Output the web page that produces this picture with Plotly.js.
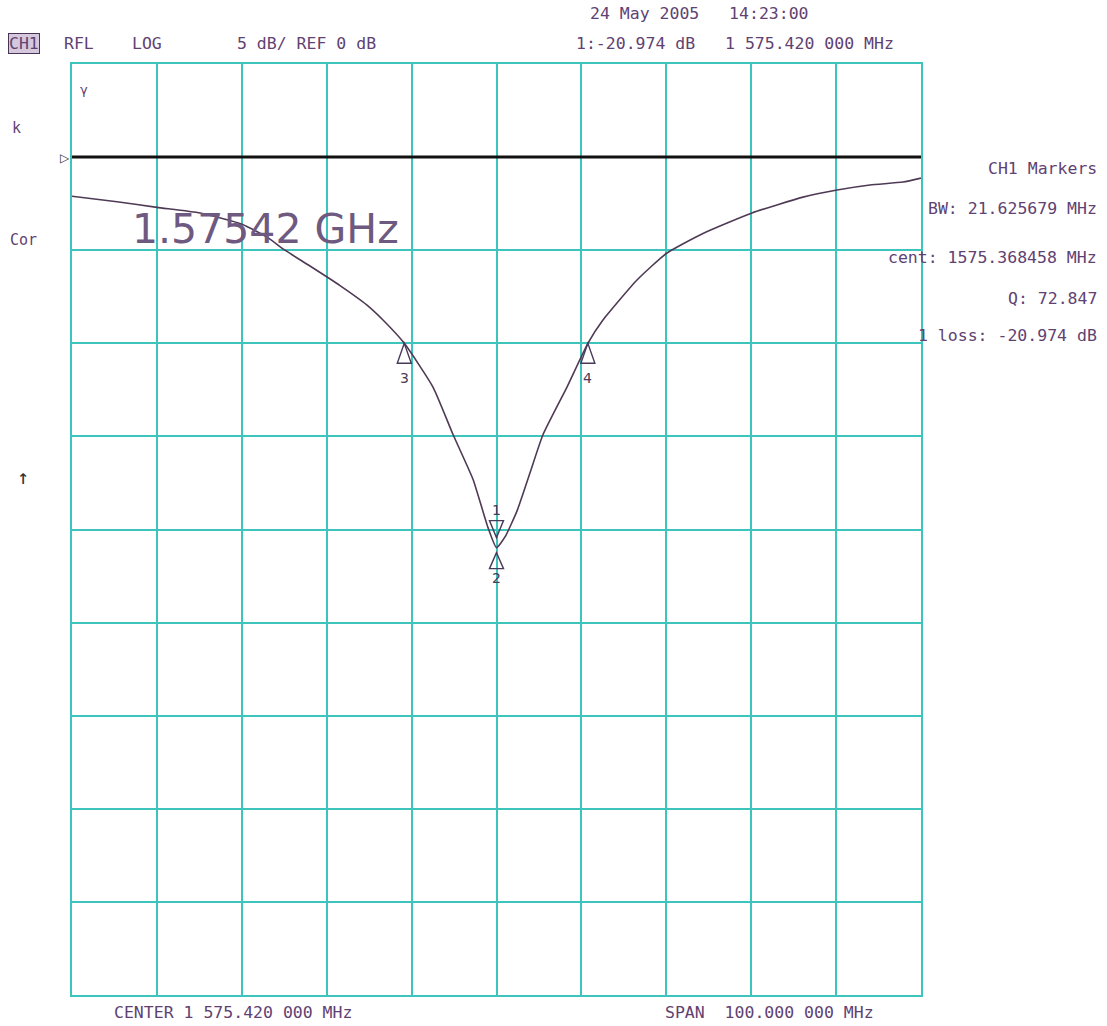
<!DOCTYPE html>
<html>
<head>
<meta charset="utf-8">
<script src="https://cdn.plot.ly/plotly-3.0.1.min.js"></script>
<style>html,body{margin:0;padding:0;background:#fff;}#chart{width:1107px;height:1026px;}</style>
</head>
<body>
<div id="chart"></div>
<script>
// ---- data ----
const freqMHz = [1525.42, 1530.72, 1535.43, 1540.50, 1545.44, 1548.39, 1550.51, 1553.45, 1556.99, 1560.17,
                 1562.05, 1564.56, 1567.94, 1570.30, 1572.65, 1574.42, 1575.42, 1576.42, 1577.84, 1579.37,
                 1580.90, 1583.72, 1586.18, 1587.96, 1591.97, 1595.50, 1599.74, 1605.51, 1611.52, 1615.53,
                 1619.41, 1623.30, 1625.42];
const s11dB   = [-2.1, -2.4, -2.7, -3.0, -3.6, -4.3, -5.0, -5.85, -6.9, -7.95,
                 -8.75, -10.0, -12.35, -14.9, -17.3, -19.9, -20.974, -20.4, -19.0, -16.95,
                 -14.9, -12.35, -10.0, -8.75, -6.6, -5.15, -4.1, -3.0, -2.15, -1.77,
                 -1.5, -1.34, -1.13];
const markerIds   = ["1", "2", "3", "4"];
const markerFreq  = [1575.42, 1575.42, 1564.555, 1586.181];
const markerDb    = [-20.974, -20.974, -10.0, -10.0];
const centerMHz = 1575.42;
const spanMHz = 100;
const refLevelDb = 0;
const scaleDbPerDiv = 5;
const nDiv = 10;
const topDb = 5;
const infoLabels = ["CH1 Markers", "BW: 21.625679 MHz", "cent: 1575.368458 MHz", "Q: 72.847", "1 loss: -20.974 dB"];
const headerTexts = ["CH1", "RFL", "LOG", "5 dB/ REF 0 dB", "1:-20.974 dB   1 575.420 000 MHz"];
const dateText = "24 May 2005   14:23:00";
const footerTexts = ["CENTER 1 575.420 000 MHz", "SPAN  100.000 000 MHz"];
const bigLabel = "1.57542 GHz";

// ---- layout helpers (pixel -> paper) ----
const L = 72, R = 921, T = 64, B = 995;
const px = x => (x - L) / (R - L);
const py = y => (B - y) / (B - T);

const txtColor = "#5f4272";
const mono = "DejaVu Sans Mono, Liberation Mono, monospace";
const gridColor = "#3cc4bd";
const markColor = "#4a3a5a";

const ann = [];
function addText(text, x, y, xanchor, opts) {
  ann.push(Object.assign({
    text: text, xref: "paper", yref: "paper", x: px(x), y: py(y),
    xanchor: xanchor, yanchor: "middle", showarrow: false,
    font: {family: mono, size: 16.5, color: txtColor}
  }, opts || {}));
}
addText(dateText, 588, 14, "left");
addText(headerTexts[0], 8, 44, "left", {bgcolor: "#d6c8dc", bordercolor: "#4a3358", borderwidth: 1, borderpad: 0});
addText(headerTexts[1], 62, 44, "left");
addText(headerTexts[2], 130, 44, "left");
addText(headerTexts[3], 235, 44, "left");
addText(headerTexts[4], 574, 44, "left");
const infoY = [168, 208, 257, 298, 336];
infoLabels.forEach((t, i) => addText(t, 1099, infoY[i], "right"));
addText(footerTexts[0], 112, 1012, "left");
addText(footerTexts[1], 663, 1012, "left");
addText(bigLabel, 130, 229, "left", {font: {family: "DejaVu Sans, sans-serif", size: 41, color: "#6e5a80"}});
addText("k", 10, 128, "left", {font: {family: mono, size: 15, color: txtColor}});
addText("Cor", 8, 240, "left", {font: {family: mono, size: 15, color: txtColor}});
addText("↑", 15, 477, "left", {font: {family: mono, size: 20, color: "#333"}});
addText("▷", 58, 158, "left", {font: {family: "DejaVu Sans", size: 12, color: "#333"}});
addText("γ", 78, 90, "left", {font: {family: "DejaVu Sans", size: 13, color: txtColor}});

// marker triangles as pixel-sized shapes anchored at marker data points
const shapes = [{type: "line", xref: "paper", yref: "y", x0: 0, x1: 1, y0: refLevelDb, y1: refLevelDb,
                 line: {color: "#111", width: 3}}];
markerIds.forEach((id, i) => {
  let path, labelShift;
  if (id === "1") {            // downward triangle above the point
    path = "M0,10 L-7,27 L7,27 Z";
    labelShift = 38;
  } else if (id === "2") {     // upward triangle below the point
    path = "M0,-5 L-7,-21 L7,-21 Z";
    labelShift = -30;
  } else {                     // upward triangle with apex on trace
    path = "M0,0 L-7,-20 L7,-20 Z";
    labelShift = -35;
  }
  shapes.push({type: "path", xref: "x", yref: "y", xsizemode: "pixel", ysizemode: "pixel",
               xanchor: markerFreq[i], yanchor: markerDb[i], path: path,
               line: {color: markColor, width: 1.4}});
  ann.push({
    text: id, x: markerFreq[i], y: markerDb[i], xref: "x", yref: "y",
    xanchor: "center", yanchor: "middle", showarrow: false, borderpad: 0,
    font: {family: "DejaVu Sans", size: 14, color: markColor}, yshift: labelShift
  });
});

const trace = {
  x: freqMHz, y: s11dB, type: "scatter", mode: "lines",
  line: {color: "#4f3a55", width: 1.6, shape: "spline", smoothing: 0.5},
  hoverinfo: "skip"
};

const xMin = centerMHz - spanMHz / 2, xMax = centerMHz + spanMHz / 2;
const layout = {
  width: 1107, height: 1026,
  margin: {l: L, r: 1107 - R, t: T, b: 1026 - B},
  paper_bgcolor: "#ffffff", plot_bgcolor: "#ffffff",
  showlegend: false,
  xaxis: {range: [xMin, xMax], tick0: xMin, dtick: spanMHz / nDiv, showticklabels: false,
          showgrid: true, gridcolor: gridColor, gridwidth: 2, zeroline: false,
          showline: true, linecolor: gridColor, linewidth: 2, mirror: true, ticks: "", fixedrange: true},
  yaxis: {range: [topDb - nDiv * scaleDbPerDiv, topDb], tick0: topDb, dtick: scaleDbPerDiv, showticklabels: false,
          showgrid: true, gridcolor: gridColor, gridwidth: 2, zeroline: false,
          showline: true, linecolor: gridColor, linewidth: 2, mirror: true, ticks: "", fixedrange: true},
  shapes: shapes,
  annotations: ann
};

Plotly.newPlot("chart", [trace], layout, {displayModeBar: false, staticPlot: true});
</script>
</body>
</html>
